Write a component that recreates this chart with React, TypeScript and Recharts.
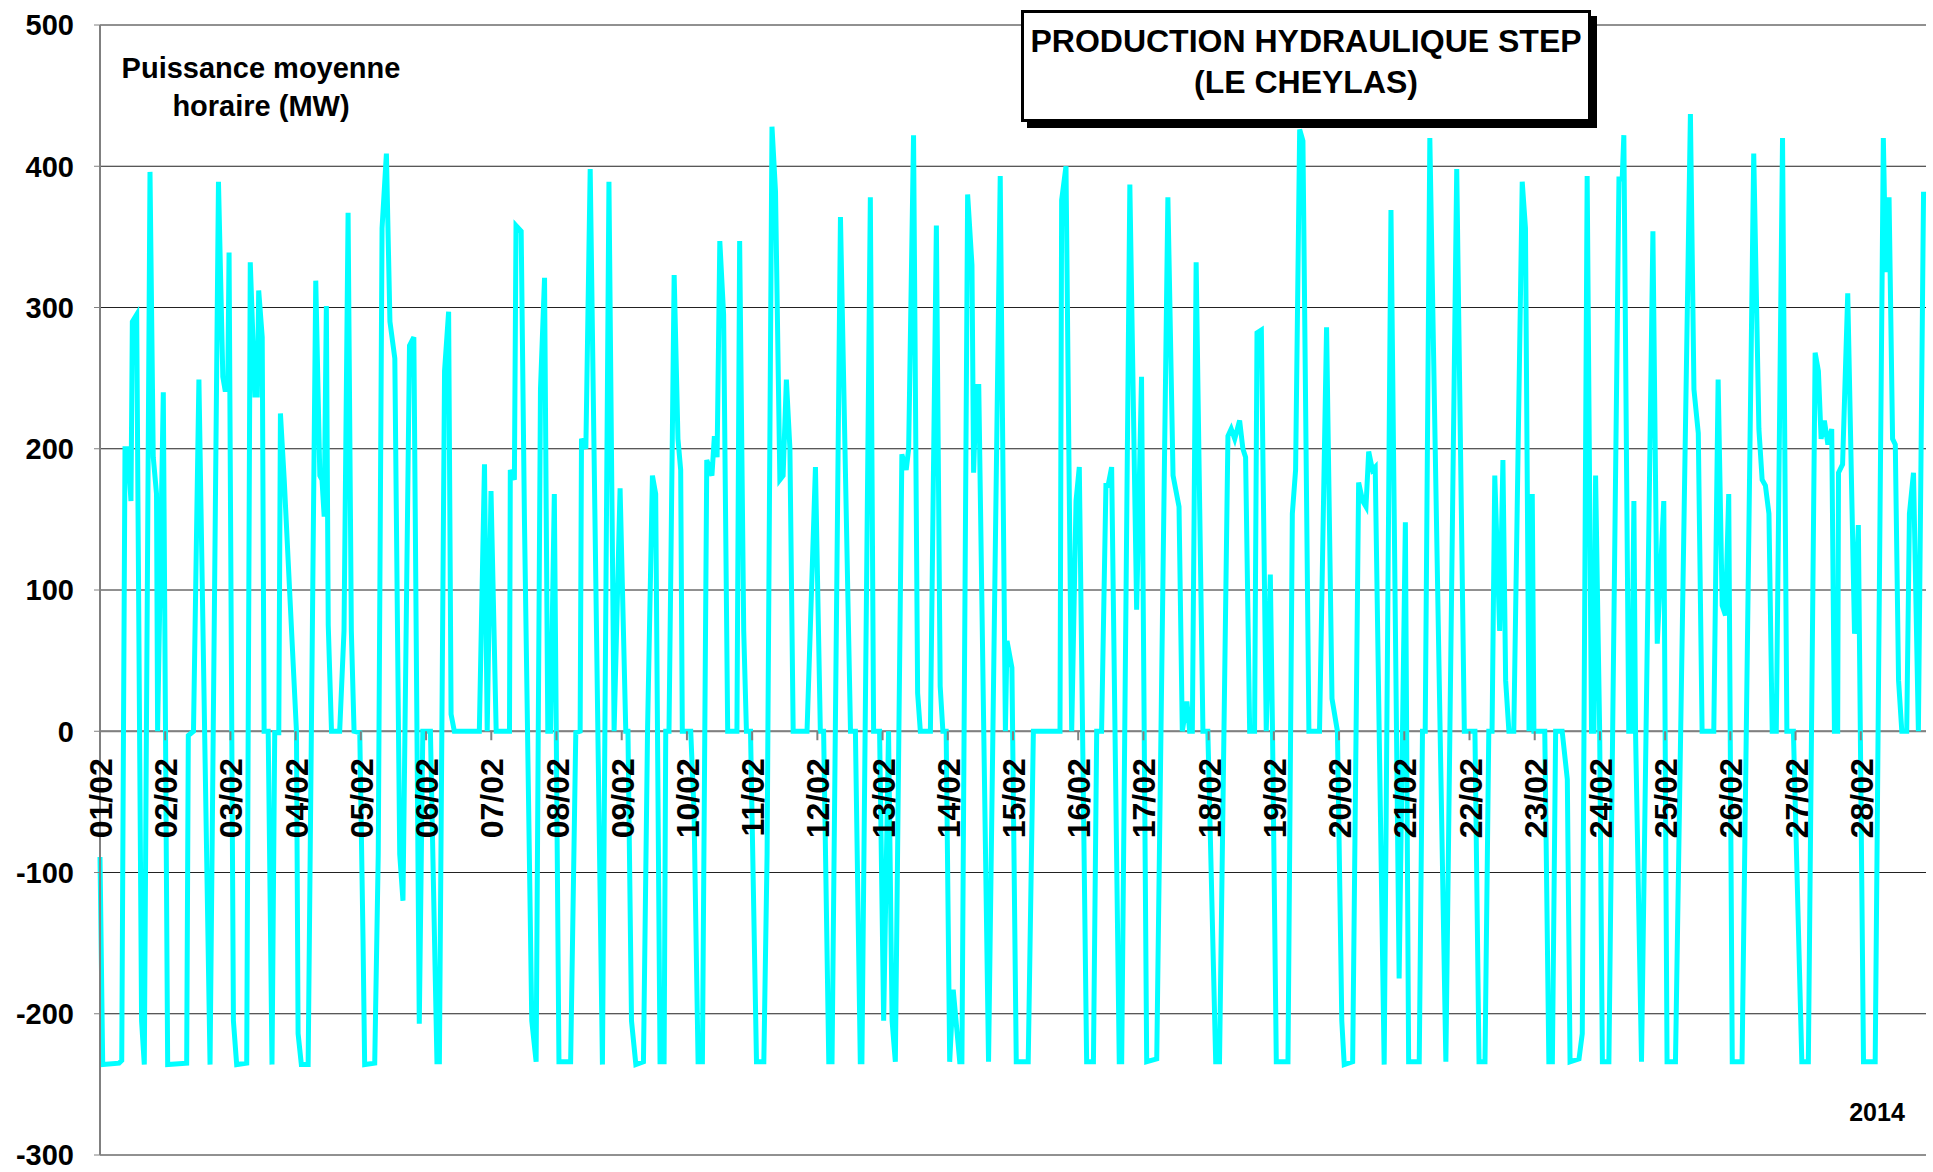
import React from 'react';
import {
  CartesianGrid,
  Line,
  LineChart,
  ReferenceDot,
  ReferenceLine,
  XAxis,
  YAxis,
} from 'recharts';

// [heure depuis le 01/02 0h, puissance moyenne horaire MW]
const week1: [number, number][] = [
  [0, -89], [1, -236], [7, -235], [8, -233], [9.2, 200], [10.2, 200], [11.4, 163], [11.9, 290],
  [13.5, 295], [15.3, -205], [16.3, -236], [18.4, 396], [19.6, 194], [20.8, 168], [21.2, 0],
  [23.3, 240], [24.9, -236], [31.9, -235], [32.5, -3], [34.4, 0], [36.4, 249], [40.5, -236],
  [43.6, 389], [45.2, 251], [46, 242], [47, 242], [47.5, 339], [49.1, -205], [50.3, -236],
  [54, -235], [55.3, 332], [57, 238], [57.9, 238], [58.4, 312], [59.7, 279], [60.4, 0], [61.9, 0],
  [63.3, -236], [64.3, -1], [65.8, -1], [66.4, 225], [67.8, 178], [72.3, 0], [72.9, -214],
  [74.1, -236], [76.6, -236], [79.4, 319], [80.9, 181], [81.7, 178], [82.5, 152], [83.3, 301],
  [84, 75], [85.2, 0], [88.2, 0], [89.8, 71], [91.3, 367], [92.5, 71], [93.5, 0], [95.6, -1],
  [96.8, -148], [97.4, -236], [101.1, -235], [102.4, -87], [103.8, 356], [105.4, 409],
  [106.7, 290], [108.5, 264], [110.3, -87], [111.5, -120], [113.9, 273], [115.5, 279],
  [117.5, -207], [118.8, 0], [121.6, 0], [124, -234], [124.9, -234], [126.8, 255], [128.3, 297],
  [129.2, 12], [130.4, 0], [139.6, 0], [141.5, 189], [142.5, 0], [143.9, 170], [145.8, 0],
  [150.7, 0], [151, 185], [152.5, 178], [153.1, 358], [155, 354], [156.2, 150], [158.9, -205],
  [160.5, -234], [162.1, 242], [163.6, 321], [164.8, 0], [165.8, 0], [167.2, 168],
];

const week2: [number, number][] = [
  [168.9, -234], [173.2, -234], [175.1, -1], [176.7, 0], [177.2, 207], [178.8, 200], [180.4, 398],
  [184.9, -236], [187.3, 389], [189.2, 0], [191.4, 172], [193.5, 0], [194.3, 0], [195.6, -205],
  [197.2, -236], [200, -234], [201.5, 0], [203.3, 181], [204.5, 168], [206.1, -234],
  [207.6, -234], [208.2, 0], [209.4, 0], [211.3, 323], [212.7, 207], [213.7, 185], [214.3, 0],
  [217.4, 0], [218.6, -56], [220.1, -234], [221.7, -234], [223.3, 192], [225.2, 181],
  [226.1, 209], [227.1, 194], [228.1, 347], [229.5, 295], [231, 0], [234.4, 0], [235.4, 347],
  [236.9, 71], [237.9, 0], [239.4, 0], [241.6, -234], [244.3, -234], [245.5, -87], [247.3, 428],
  [248.6, 382], [250.2, 178], [251.4, 181], [252.6, 249], [253.9, 200], [255.1, 0], [260.2, 0],
  [263.3, 187], [265.1, 0], [266.3, 0], [268.2, -234], [269.4, -234], [272.5, 364], [276.2, 0],
  [278, 0], [279.8, -234], [280.4, -234], [283.5, 378], [284.7, 0], [286.9, 0], [288.4, -205],
  [290.2, 0], [291.5, -205], [292.7, -234], [295.1, 196], [296.7, 185], [297.6, 200],
  [299.4, 422], [300.9, 27], [301.9, 0], [305.6, 0], [307.8, 358], [309.2, 32], [310.2, 0],
  [311.4, 0], [312.7, -234], [314, -183], [316.4, -234], [317.2, -234], [319.3, 380],
  [320.9, 330], [321.5, 183], [322.5, 244], [323.4, 244], [327, -234], [331.3, 393], [333.2, 0],
  [333.8, 64], [335.6, 45],
];

const week3: [number, number][] = [
  [337.2, -234], [341.6, -234], [343.5, 0], [353.3, 0], [353.9, 376], [355.5, 400], [357.6, 0],
  [359.2, 163], [360.4, 187], [363.1, -234], [365.6, -234], [366.8, 0], [368.6, 0], [370.2, 174],
  [371, 174], [372.3, 187], [375.1, -234], [376, -234], [379, 387], [381.5, 86], [383.3, 251],
  [385.2, -234], [388.9, -232], [393, 378], [394.9, 181], [397.1, 159], [398.3, 0], [400, 21],
  [401, 0], [402, 0], [403.4, 332], [405.9, 0], [407.7, 0], [410.6, -234], [412, -234],
  [415.1, 209], [416.3, 214], [417.6, 207], [419.4, 220], [420.6, 200], [421.6, 194], [423.1, 0],
  [424.9, 0], [425.8, 282], [427.4, 284], [429.2, 0], [430.7, 111], [431.5, 0], [432.9, -234],
  [437.2, -234], [438.8, 154], [440, 185], [441.5, 426], [442.7, 418], [444.9, 0], [448.8, 0],
  [451.4, 286], [453.4, 23], [455.4, 0], [457, -205], [457.9, -236], [461, -234], [463.2, 176],
  [464.7, 163], [465.9, 159], [466.9, 198], [468.3, 185], [469.3, 187], [472.6, -236],
  [475.1, 369], [478.1, -175], [480.4, 148], [481.6, -234], [485.5, -234], [486.7, 0],
  [487.7, 0], [489.4, 420], [495.3, -234], [499.3, 398], [502.1, 0],
];

const week4: [number, number][] = [
  [505.1, 0], [506, 0], [507.5, -234], [509.7, -234], [511.1, 0], [512.3, 0], [513.3, 181],
  [515.1, 71], [516.3, 192], [517.3, 36], [518.5, 0], [520.3, 0], [523.4, 389], [524.6, 356],
  [525.9, 0], [527.1, 168], [527.7, 0], [531.7, 0], [533.2, -234], [534.5, -234], [535.7, 0],
  [538.1, 0], [540, -34], [541, -234], [544.3, -232], [545.5, -214], [547.3, 393], [548.9, 0],
  [549.8, 0], [550.4, 181], [551.9, 0], [552.9, -234], [555.3, -234], [559, 391], [560.2, 391],
  [560.8, 422], [562.6, 0], [563.6, 0], [564.5, 163], [565.1, 0], [567.3, -234], [571.5, 354],
  [573.1, 62], [575.5, 163], [576.7, -234], [579.8, -234], [585.3, 437], [586.6, 242],
  [588.2, 211], [589.6, 0], [593.9, 0], [595.5, 249], [597, 89], [598.2, 82], [599.4, 168],
  [600.7, -234], [604.3, -234], [608.6, 409], [610.5, 214], [611.7, 178], [612.9, 174],
  [614.2, 154], [615.4, 0], [616.9, 0], [619.2, 420], [620.8, 0], [623.2, 0], [626.3, -234],
  [628.7, -234], [631.2, 268], [632.4, 255], [633.4, 207], [634.6, 220], [635.9, 203],
  [637.3, 214], [638.3, 0], [639.5, 0], [639.8, 183], [641.3, 189], [643.2, 310], [645.7, 69],
  [647.1, 146], [649, -234], [653.3, -234], [656.3, 420], [657.2, 325], [658.4, 378],
  [659.7, 207], [660.7, 203], [661.9, 36], [663.1, 0], [664.9, 0], [665.9, 154], [667.4, 183],
  [669.2, 0], [671.1, 382],
];

const dayLabels = [
  '01/02', '02/02', '03/02', '04/02', '05/02', '06/02', '07/02', '08/02', '09/02', '10/02',
  '11/02', '12/02', '13/02', '14/02', '15/02', '16/02', '17/02', '18/02', '19/02', '20/02',
  '21/02', '22/02', '23/02', '24/02', '25/02', '26/02', '27/02', '28/02',
];

const yTicks = [-300, -200, -100, 0, 100, 200, 300, 400, 500];

const FONT = '"Liberation Sans", Arial, sans-serif';

const data = [...week1, ...week2, ...week3, ...week4].map(([h, mw]) => ({ h, mw }));

function DayLabel(props: any) {
  const vb = props.viewBox || {};
  const cx = vb.x + (vb.width || 0) / 2;
  const cy = vb.y + (vb.height || 0) / 2;
  return (
    <g>
      <line x1={cx} y1={cy} x2={cx} y2={cy + 9} stroke="#808080" strokeWidth={2} />
      <text
        transform={`translate(${cx + 12},${cy + 27}) rotate(-90)`}
        textAnchor="end"
        fontFamily={FONT}
        fontWeight="bold"
        fontSize={32}
        fill="#000"
      >
        {props.text}
      </text>
    </g>
  );
}

export default function App() {
  return (
    <div style={{ position: 'absolute', left: 0, top: 0, width: 1933, height: 1172, background: '#fff' }}>
      <LineChart
        width={1933}
        height={1172}
        data={data}
        margin={{ top: 25, right: 7, left: 10, bottom: 17 }}
      >
        <CartesianGrid vertical={false} stroke="#222" strokeWidth={1} />
        <XAxis dataKey="h" type="number" domain={[0, 672]} hide />
        <YAxis
          type="number"
          domain={[-300, 500]}
          ticks={yTicks}
          interval={0}
          width={90}
          axisLine={{ stroke: '#808080', strokeWidth: 2 }}
          tickLine={{ stroke: '#808080' }}
          tickSize={6}
          tickMargin={20}
          tick={{ fill: '#000', fontSize: 29, fontWeight: 'bold', fontFamily: FONT }}
        />
        <ReferenceLine y={0} stroke="#808080" strokeWidth={2} />
        {dayLabels.map((d, i) => (
          <ReferenceDot
            key={d}
            x={i * 24}
            y={0}
            r={0}
            fill="none"
            stroke="none"
            ifOverflow="visible"
            label={(p: any) => <DayLabel viewBox={p.viewBox} text={d} />}
          />
        ))}
        <Line
          type="linear"
          dataKey="mw"
          stroke="#00FFFF"
          strokeWidth={5}
          dot={false}
          isAnimationActive={false}
        />
      </LineChart>
      <div
        style={{
          position: 'absolute',
          left: 111,
          top: 49,
          width: 300,
          textAlign: 'center',
          fontFamily: FONT,
          fontWeight: 'bold',
          fontSize: 29,
          lineHeight: '38px',
        }}
      >
        Puissance moyenne
        <br />
        horaire (MW)
      </div>
      <div
        style={{
          position: 'absolute',
          left: 1021,
          top: 10,
          width: 564,
          height: 98,
          border: '3px solid #000',
          boxShadow: '6px 6px 0 #000',
          background: '#fff',
          textAlign: 'center',
          fontFamily: FONT,
          fontWeight: 'bold',
          fontSize: 32,
          lineHeight: '41px',
          paddingTop: 8,
          boxSizing: 'content-box',
        }}
      >
        PRODUCTION HYDRAULIQUE STEP
        <br />
        (LE CHEYLAS)
      </div>
      <div
        style={{
          position: 'absolute',
          left: 1837,
          top: 1097,
          width: 80,
          textAlign: 'center',
          fontFamily: FONT,
          fontWeight: 'bold',
          fontSize: 25,
          lineHeight: '30px',
        }}
      >
        2014
      </div>
    </div>
  );
}
